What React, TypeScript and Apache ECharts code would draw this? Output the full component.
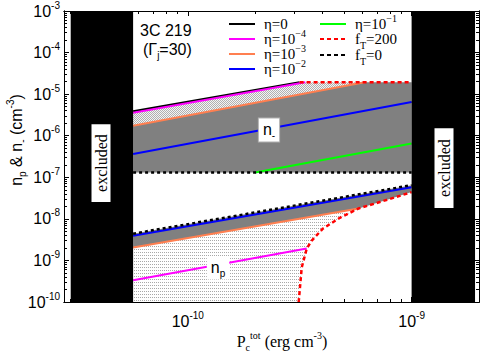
import { useEffect, useRef } from 'react';
import * as echarts from 'echarts';

const SANS = '"Liberation Sans", Arial, Helvetica, sans-serif';
const SERIF = '"Liberation Serif", "Times New Roman", serif';

// Axis ranges (P_c^tot in erg cm^-3, densities in cm^-3)
const xRange = [2.8e-11, 2e-9];
const yRange = [1e-10, 1e-3];
const xMajorTicks = [1e-10, 1e-9];
const xMinorTicks = [3e-11, 4e-11, 5e-11, 6e-11, 7e-11, 8e-11, 9e-11, 2e-10, 3e-10, 4e-10, 5e-10, 6e-10, 7e-10, 8e-10, 9e-10];
const yMajorTicks = [1e-10, 1e-9, 1e-8, 1e-7, 1e-6, 1e-5, 1e-4, 1e-3];
const yMinorMultipliers = [2, 3, 4, 5, 6, 7, 8, 9];

// excluded ranges of P_c^tot
const excludedLow = [3e-11, 5.7e-11];
const excludedHigh = [1e-9, 1.92e-9];

// n_- band (upper)
const nmEta0 = [[5.7e-11, 3.9e-6], [3.16e-10, 1.93e-5]];
const nmEta1e4 = [[5.7e-11, 3.55e-6], [3.35e-10, 1.93e-5]];
const nmEta1e3 = [[5.7e-11, 1.73e-6], [6.17e-10, 1.93e-5]];
const nmEta1e2 = [[5.7e-11, 3.63e-7], [1e-9, 6.46e-6]];
const nmEta1e1 = [[2e-10, 1.31e-7], [1e-9, 6.46e-7]];
const nmFT0 = [[5.7e-11, 1.31e-7], [1e-9, 1.31e-7]];
const nmFT200 = [[3.16e-10, 1.93e-5], [1e-9, 1.93e-5]];

// n_p band (lower)
const npFT0 = [[5.7e-11, 4.4e-9], [1e-9, 6.46e-8]];
const npEta1e2 = [[5.7e-11, 3.94e-9], [1e-9, 5.78e-8]];
const npEta1e3 = [[5.7e-11, 2.04e-9], [5.8e-10, 1.78e-8]];
const npEta1e4 = [[5.7e-11, 3.34e-10], [3.4e-10, 1.93e-9]];
const npFT200 = [
  [3.13e-10, 1e-10], [3.23e-10, 6.8e-10], [3.4e-10, 1.93e-9], [3.58e-10, 3.0e-9],
  [4.01e-10, 5.8e-9], [4.78e-10, 1.06e-8], [5.8e-10, 1.78e-8], [7.98e-10, 3.0e-8], [1e-9, 4.4e-8],
];
const npMeetIndex = 6; // where the eta=1e-3 line meets the f_T=200 curve

const lg = (v: number) => Math.log10(v);

function makePattern(w: number, h: number, bg: string, dots: [number, number, string][]) {
  const c = document.createElement('canvas');
  c.width = w;
  c.height = h;
  const ctx = c.getContext('2d')!;
  ctx.fillStyle = bg;
  ctx.fillRect(0, 0, w, h);
  for (const [x, y, col] of dots) {
    ctx.fillStyle = col;
    ctx.fillRect(x, y, 1, 1);
  }
  return { image: c.toDataURL(), repeat: 'repeat', imageWidth: w, imageHeight: h } as any;
}

const richBase = (family: string, size = 16) => ({
  t: { fontFamily: family, fontSize: size, lineHeight: 22, verticalAlign: 'middle', color: '#000' },
  sup: { fontFamily: family, fontSize: 10, lineHeight: 12, verticalAlign: 'top', color: '#000' },
  sub: { fontFamily: family, fontSize: 10, lineHeight: 12, verticalAlign: 'bottom', color: '#000' },
});

export default function App() {
  const ref = useRef<HTMLDivElement>(null);

  useEffect(() => {
    if (!ref.current) return;
    const chart = echarts.init(ref.current, null, { renderer: 'svg' });

    const hatch = makePattern(2, 2, '#f4f4f4', [[0, 0, '#b0b0b0'], [1, 1, '#b0b0b0']]);
    const dotted = makePattern(2, 3, '#ffffff', [[0, 0, '#a8a8a8']]);

    const rev = (a: number[][]) => a.slice().reverse();
    const upperHatch = [...nmEta0, ...rev(nmEta1e3)];
    const upperGray = [...nmEta1e3, nmFT200[nmFT200.length - 1], ...rev(nmFT0)];
    const lowerGray = [...npFT0, ...rev(npFT200.slice(npMeetIndex)), ...rev(npEta1e3)];
    const lowerDots = [...npEta1e3, ...rev(npFT200.slice(0, npMeetIndex + 1)), [npEta1e3[0][0], yRange[0]]];
    const exclL = [[excludedLow[0], yRange[0]], [excludedLow[1], yRange[0]], [excludedLow[1], yRange[1]], [excludedLow[0], yRange[1]]];
    const exclR = [[excludedHigh[0], yRange[0]], [excludedHigh[1], yRange[0]], [excludedHigh[1], yRange[1]], [excludedHigh[0], yRange[1]]];

    const poly = (pts: number[][], fill: any, z: number) => ({
      type: 'custom',
      xAxisIndex: 0,
      yAxisIndex: 0,
      silent: true,
      z,
      data: [[lg(pts[0][0]), lg(pts[0][1])]],
      renderItem: (_p: any, api: any) => ({
        type: 'polygon',
        shape: { points: pts.map(([p, n]) => api.coord([lg(p), lg(n)])) },
        style: { fill, stroke: null, lineWidth: 0 },
      }),
    });

    const line = (name: string, pts: number[][], color: string, width: number, type: any = 'solid', z = 5) => ({
      type: 'line',
      name,
      xAxisIndex: 0,
      yAxisIndex: 0,
      silent: true,
      z,
      showSymbol: false,
      symbol: 'none',
      data: pts.map(([p, n]) => [lg(p), lg(n)]),
      lineStyle: { color, width, type, cap: 'butt' },
    });

    const yMinorTicks: number[] = [];
    yMajorTicks.slice(0, -1).forEach((d) => yMinorMultipliers.forEach((m) => yMinorTicks.push(d * m)));

    const labelRich = {
      b: { fontFamily: SANS, fontSize: 16, lineHeight: 22, verticalAlign: 'middle', color: '#000' },
      s: { fontFamily: SANS, fontSize: 10, lineHeight: 12, verticalAlign: 'top', color: '#000' },
    };
    const fmt = (v: number) => `{b|10}{s|${Math.round(v)}}`;

    const xAx = (pos: string, ticks: number[], len: number, labels: boolean) => ({
      type: 'value',
      position: pos,
      min: lg(xRange[0]),
      max: lg(xRange[1]),
      axisLine: { show: true, onZero: false, lineStyle: { color: '#000', width: 1 } },
      axisTick: { show: true, inside: true, length: len, customValues: ticks.map(lg), lineStyle: { color: '#000', width: 1 } },
      axisLabel: labels
        ? { show: true, customValues: xMajorTicks.map(lg), formatter: fmt, rich: labelRich, margin: 8 }
        : { show: false },
      splitLine: { show: false },
    });
    const yAx = (pos: string, ticks: number[], len: number, labels: boolean) => ({
      type: 'value',
      position: pos,
      min: lg(yRange[0]),
      max: lg(yRange[1]),
      axisLine: { show: true, onZero: false, lineStyle: { color: '#000', width: 1 } },
      axisTick: { show: true, inside: true, length: len, customValues: ticks.map(lg), lineStyle: { color: '#000', width: 1 } },
      axisLabel: labels
        ? { show: true, customValues: yMajorTicks.map(lg), formatter: fmt, rich: labelRich, margin: 4 }
        : { show: false },
      splitLine: { show: false },
    });

    const rb = richBase(SERIF, 15);
    const legendRows = [
      { x: 229, y: 24, color: '#000000', dash: 'solid', text: '{t|η=0}' },
      { x: 229, y: 39, color: '#ff00ff', dash: 'solid', text: '{t|η=10}{sup|−4}' },
      { x: 229, y: 54, color: '#ff7f50', dash: 'solid', text: '{t|η=10}{sup|−3}' },
      { x: 229, y: 69, color: '#0000ff', dash: 'solid', text: '{t|η=10}{sup|−2}' },
      { x: 320, y: 24, color: '#00ff00', dash: 'solid', text: '{t|η=10}{sup|−1}' },
      { x: 320, y: 39, color: '#ff0000', dash: [4, 3], text: '{t|f}{sub|T}{t|=200}' },
      { x: 320, y: 55, color: '#000000', dash: [4, 3], text: '{t|f}{sub|T}{t|=0}' },
    ];
    const legendEls: any[] = [];
    legendRows.forEach((r) => {
      legendEls.push({
        type: 'line',
        shape: { x1: r.x, y1: r.y, x2: r.x + 26, y2: r.y },
        style: { stroke: r.color, lineWidth: 2, lineDash: r.dash === 'solid' ? null : r.dash },
        z: 100,
      });
      legendEls.push({
        type: 'text',
        x: r.x + 35,
        y: r.y,
        style: { text: r.text, rich: rb, verticalAlign: 'middle', align: 'left' },
        z: 100,
      });
    });

    const sansRich = richBase(SANS, 16);
    const serifRich = richBase(SERIF, 16);

    chart.setOption({
      animation: false,
      backgroundColor: '#fff',
      grid: { left: 64, right: 3, top: 8, bottom: 52, containLabel: false },
      xAxis: [
        xAx('bottom', xMajorTicks, 5, true),
        xAx('bottom', xMinorTicks, 3, false),
        xAx('top', xMajorTicks, 5, false),
        xAx('top', xMinorTicks, 3, false),
      ],
      yAxis: [
        yAx('left', yMajorTicks, 5, true),
        yAx('left', yMinorTicks, 3, false),
        yAx('right', yMajorTicks, 5, false),
        yAx('right', yMinorTicks, 3, false),
      ],
      series: [
        poly(upperHatch, hatch, 1),
        poly(upperGray, '#808080', 1),
        poly(lowerGray, '#808080', 1),
        poly(lowerDots, dotted, 1),
        line('η=0', nmEta0, '#000000', 2),
        line('η=1e-4', nmEta1e4, '#ff00ff', 2),
        line('η=1e-3', nmEta1e3, '#ff7f50', 2),
        line('η=1e-2', nmEta1e2, '#0000ff', 2),
        line('η=1e-1', nmEta1e1, '#00ff00', 2),
        line('fT=0', nmFT0, '#000000', 2.5, [3, 3], 6),
        line('fT=200', nmFT200, '#ff0000', 2.5, [4, 3], 6),
        line('np η=1e-3', npEta1e3, '#ff7f50', 2),
        line('np η=1e-2', npEta1e2, '#0000ff', 2),
        line('np fT=0', npFT0, '#000000', 2.5, [3, 3], 6),
        line('np η=1e-4', npEta1e4, '#ff00ff', 2),
        line('np fT=200', npFT200, '#ff0000', 2.5, [4, 3], 6),
        poly(exclL, '#000000', 8),
        poly(exclR, '#000000', 8),
      ],
      graphic: [
        ...legendEls,
        { type: 'text', x: 140, y: 30, style: { text: '3C 219', font: `16px ${SANS}`, fill: '#000', verticalAlign: 'middle' }, z: 100 },
        { type: 'text', x: 143, y: 49, style: { text: '{t|(Γ}{sub|j}{t|=30)}', rich: sansRich, verticalAlign: 'middle' }, z: 100 },
        {
          type: 'text', x: 101, y: 163, rotation: Math.PI / 2, z: 100,
          style: { text: 'excluded', font: `16px ${SERIF}`, fill: '#000', align: 'center', verticalAlign: 'middle', backgroundColor: '#fff', padding: [2, 10, 1, 10] },
        },
        {
          type: 'text', x: 444, y: 168, rotation: Math.PI / 2, z: 100,
          style: { text: 'excluded', font: `16px ${SERIF}`, fill: '#000', align: 'center', verticalAlign: 'middle', backgroundColor: '#fff', padding: [2, 11, 1, 11] },
        },
        {
          type: 'text', x: 269, y: 130, z: 100,
          style: { text: '{t|n}{sub|-}', rich: sansRich, align: 'center', verticalAlign: 'middle', backgroundColor: '#fff', borderColor: '#b0b0b0', borderWidth: 1, padding: [0, 4, 1, 4] },
        },
        {
          type: 'text', x: 218, y: 268, z: 100,
          style: { text: '{t|n}{sub|p}', rich: sansRich, align: 'center', verticalAlign: 'middle', backgroundColor: '#fff', padding: [0, 4, 1, 4] },
        },
        {
          type: 'text', x: 16, y: 140, rotation: Math.PI / 2, z: 100,
          style: { text: '{t|n}{sub|p}{t| & n}{sub|-}{t| (cm}{sup|-3}{t|)}', rich: sansRich, align: 'center', verticalAlign: 'middle' },
        },
        {
          type: 'text', x: 282, y: 341, z: 100,
          style: { text: '{t|P}{sub|c}{sup|tot}{t| (erg cm}{sup|-3}{t|)}', rich: serifRich, align: 'center', verticalAlign: 'middle' },
        },
      ],
    });

    return () => chart.dispose();
  }, []);

  return <div ref={ref} style={{ position: 'fixed', left: 0, top: 0, width: 482, height: 354 }} />;
}
